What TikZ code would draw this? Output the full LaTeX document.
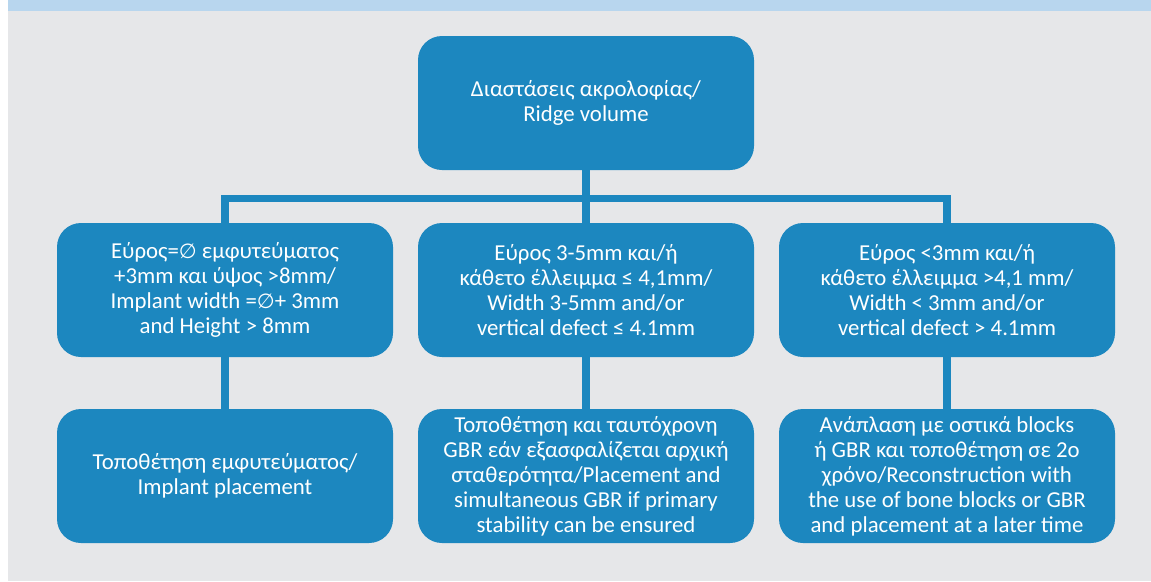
\documentclass[tikz,border=0pt]{standalone}
\usepackage{fontspec}
\setmainfont{Carlito}
\newfontfamily\symfont{DejaVu Sans}[Scale=0.9]
\definecolor{boxblue}{HTML}{1C87BF}
\definecolor{bggray}{HTML}{E6E7E9}
\definecolor{headblue}{HTML}{B8D6EE}
\tikzset{
  box/.style={draw=none, fill=boxblue, rounded corners=24pt, minimum width=336pt,
    minimum height=134pt, inner sep=0pt, text=white, align=center,
    font=\fontsize{22.8pt}{25pt}\selectfont},
  conn/.style={draw=boxblue, line width=7.5pt, line join=miter}
}
\newcommand{\dia}{{\symfont ∅}}
\begin{document}
\begin{tikzpicture}[x=1pt,y=-1pt]
\useasboundingbox (0,0) rectangle (1151,581);
\fill[white] (0,0) rectangle (1151,581);
\fill[bggray] (8,11) rectangle (1151,581);
\fill[headblue] (8,0) rectangle (1151,11);

\node[box] (t) at (586,103) {Διαστάσεις ακρολοφίας/\\Ridge volume};

\node[box] (m1) at (225,290) {Εύρος=\dia{} εμφυτεύματος\\+3mm και ύψος >8mm/\\Implant width =\dia+ 3mm\\and Height > 8mm};
\node[box] (m2) at (586,290) {Εύρος 3-5mm και/ή\\κάθετο έλλειμμα ≤ 4,1mm/\\Width 3-5mm and/or\\vertical defect ≤ 4.1mm};
\node[box] (m3) at (947,290) {Εύρος <3mm και/ή\\κάθετο έλλειμμα >4,1 mm/\\Width < 3mm and/or\\vertical defect > 4.1mm};

\node[box] (b1) at (225,476) {Τοποθέτηση εμφυτεύματος/\\Implant placement};
\node[box] (b2) at (586,476) {Τοποθέτηση και ταυτόχρονη\\GBR εάν εξασφαλίζεται αρχική\\σταθερότητα/Placement and\\simultaneous GBR if primary\\stability can be ensured};
\node[box] (b3) at (947,476) {Ανάπλαση με οστικά blocks\\ή GBR και τοποθέτηση σε 2ο\\χρόνο/Reconstruction with\\the use of bone blocks or GBR\\and placement at a later time};

\coordinate (bar) at (586,198.5);
\draw[conn] (t.south) -- (bar) -- (m2.north);
\draw[conn] (m1.north) |- (bar) -| (m3.north);
\draw[conn] (m1.south) -- (b1.north);
\draw[conn] (m2.south) -- (b2.north);
\draw[conn] (m3.south) -- (b3.north);
\end{tikzpicture}
\end{document}
